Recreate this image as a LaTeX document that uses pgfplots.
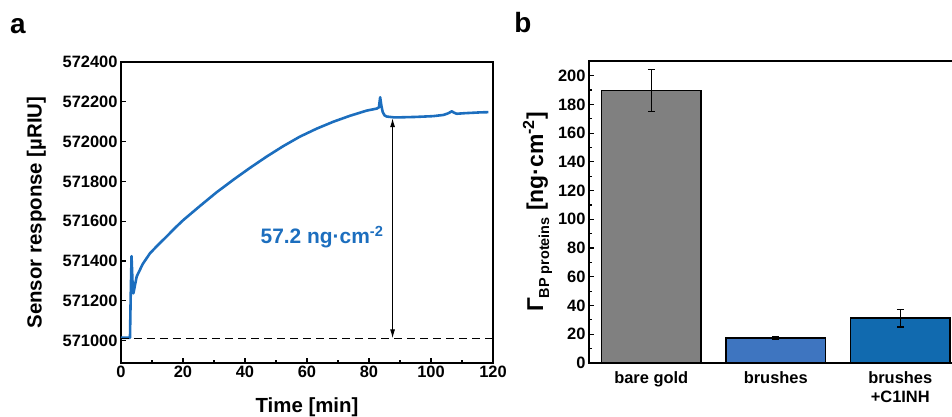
\documentclass[border=0pt]{standalone}
\usepackage{fontspec}
\setmainfont{Liberation Sans}
\usepackage{pgfplots}
\pgfplotsset{compat=1.18}
\usetikzlibrary{arrows.meta}

\definecolor{curveblue}{RGB}{28,110,190}
\definecolor{bargray}{RGB}{128,128,128}
\definecolor{barblue}{RGB}{62,117,192}
\definecolor{bardark}{RGB}{17,106,175}

\pgfplotsset{
  panel/.style={
    scale only axis,
    axis line style={line width=1.5pt},
    every tick/.style={black, line width=1.2pt},
    tick align=inside,
    major tick length=5bp,
    minor tick length=3bp,
    xtick pos=left, ytick pos=left,
    tick label style={font=\fontsize{16.5}{19}\selectfont\bfseries},
    label style={font=\fontsize{20.5}{24}\selectfont\bfseries},
    /pgf/number format/assume math mode=true,
    /pgf/number format/fixed,
    /pgf/number format/precision=0,
    /pgf/number format/1000 sep={},
  }
}

\begin{document}
\begin{tikzpicture}
\begin{axis}[panel,
  at={(0,0)}, anchor=south west,
  width=372bp, height=301bp,
  xmin=0, xmax=120, ymin=570888, ymax=572400,
  xtick={0,20,...,120}, minor x tick num=1,
  ytick={571000,571200,...,572400}, minor y tick num=1,
  xlabel={Time [min]},
  ylabel={Sensor response [µRIU]},
  xlabel style={yshift=-13bp},
  ylabel style={yshift=10bp},
  scaled y ticks=false,
]
\addplot[curveblue, line width=2.6pt, line join=round] coordinates {
  (0,571015) (1,571015) (2,571015) (2.9,571015) (3.1,571200) (3.4,571425)
  (3.7,571300) (4.0,571238) (4.4,571270) (5.05,571322) (7,571385)
  (9.35,571439) (12,571482) (14.7,571523) (17.4,571566) (20.1,571606)
  (25.5,571677) (30.8,571745) (36.2,571808) (41.6,571868) (47.0,571925)
  (52.3,571977) (57.7,572025) (63.1,572065) (68.5,572100) (73.9,572130)
  (79.3,572156) (82.5,572166) (83.2,572172) (83.6,572223) (84.0,572180)
  (84.4,572150) (85.0,572132) (85.7,572126) (88,572122) (90,572122)
  (95,572124) (100.7,572128) (104,572134) (105.5,572142) (106.7,572152)
  (107.5,572145) (108.3,572140) (111,572143) (113.6,572145) (116,572147)
  (118.5,572148)
};
\addplot[black, line width=1.3pt, dash pattern=on 8bp off 5bp] coordinates {(0,571010) (120,571010)};
\draw[{Latex[length=9bp,width=5bp]}-{Latex[length=9bp,width=5bp]}, line width=1pt]
  (axis cs:87.6,571012) -- (axis cs:87.6,572118);
\node[anchor=east, text=curveblue, font=\fontsize{21}{24}\selectfont\bfseries]
  at (axis cs:85.8,571520) {57.2 ng·cm\textsuperscript{-2}};
\end{axis}

\begin{axis}[panel,
  at={(468bp,0)}, anchor=south west,
  width=373.5bp, height=302bp,
  xmin=0.5, xmax=3.5, ymin=0, ymax=210.2,
  xtick={1,2,3}, xticklabels={bare gold,brushes,brushes\\+C1INH},
  x tick label style={align=center},
  major x tick style={draw=none},
  ytick={0,20,...,200}, minor y tick num=1,
  ylabel={\fontsize{23}{26}\selectfont Γ\raisebox{-0.5ex}{\fontsize{14.5}{16}\selectfont BP proteins} [ng·cm\textsuperscript{-2}]},
  ylabel style={yshift=-1bp},
  ybar, bar width=0.8, bar shift=0pt,
]
\addplot[fill=bargray, draw=black, line width=1.6pt,
  error bars/.cd, y dir=both, y explicit, error bar style={line width=1.4pt, black},
  error mark options={rotate=90, mark size=3.5bp, line width=1.4pt}]
  coordinates {(1,189.6) +- (0,14.6)};
\addplot[fill=barblue, draw=black, line width=1.6pt,
  error bars/.cd, y dir=both, y explicit, error bar style={line width=1.4pt, black},
  error mark options={rotate=90, mark size=3.5bp, line width=1.4pt}]
  coordinates {(2,17.6) +- (0,0.9)};
\addplot[fill=bardark, draw=black, line width=1.6pt,
  error bars/.cd, y dir=both, y explicit, error bar style={line width=1.4pt, black},
  error mark options={rotate=90, mark size=3.5bp, line width=1.4pt}]
  coordinates {(3,31.2) +- (0,6.1)};
\end{axis}

\node[font=\fontsize{28}{30}\selectfont\bfseries] at (-103bp,337bp) {a};
\node[font=\fontsize{28}{30}\selectfont\bfseries] at (402bp,340bp) {b};

\pgfresetboundingbox
\useasboundingbox (-121bp,-54bp) rectangle (831bp,363bp);
\end{tikzpicture}
\end{document}
